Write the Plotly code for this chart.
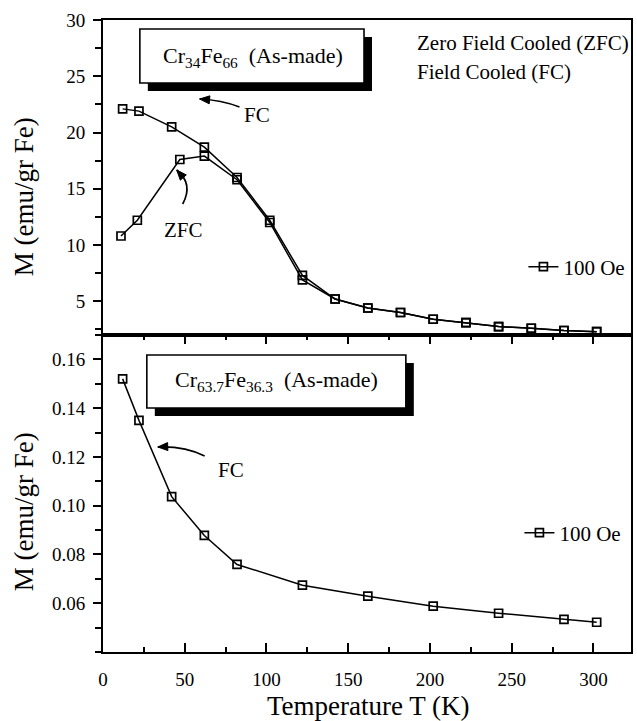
import plotly.graph_objects as go

# Cr34Fe66 (as-made), 100 Oe: field-cooled and zero-field-cooled magnetization
t_fc = [12, 22, 42, 62, 82, 102, 122, 142, 162, 182, 202, 222, 242, 262, 282, 302]
m_fc = [22.1, 21.9, 20.5, 18.7, 16.0, 12.2, 7.3, 5.2, 4.4, 4.0, 3.4, 3.1, 2.75, 2.6, 2.4, 2.3]
t_zfc = [11, 21, 47, 62, 82, 102, 122, 142, 162, 182, 202, 222, 242, 262, 282, 302]
m_zfc = [10.8, 12.2, 17.6, 17.9, 15.8, 12.0, 6.9, 5.2, 4.4, 4.0, 3.4, 3.1, 2.75, 2.6, 2.4, 2.3]

# Cr63.7Fe36.3 (as-made), 100 Oe: field-cooled magnetization
t_b = [12, 22, 42, 62, 82, 122, 162, 202, 242, 282, 302]
m_b = [0.152, 0.135, 0.1037, 0.0878, 0.0759, 0.0674, 0.0629, 0.0588, 0.0559, 0.0534, 0.0522]

top_ticks = [5, 10, 15, 20, 25, 30]
bot_ticks = [0.06, 0.08, 0.10, 0.12, 0.14, 0.16]
x_ticks = [0, 50, 100, 150, 200, 250, 300]

FONT = "'Liberation Serif', 'Times New Roman', Times, serif"
W, H = 637, 721
L, R, T, B = 103, 4, 20, 69
PW, PH = W - L - R, H - T - B
SPLIT = 335  # pixel row of the boundary between panels


def px(x):
    return (x - L) / PW


def py(y):
    return (H - B - y) / PH


mk = dict(symbol="square-open", size=8, color="black", line=dict(width=1.7, color="black"))
ln = dict(color="black", width=1.5)

fig = go.Figure()
fig.add_trace(go.Scatter(x=t_zfc, y=m_zfc, mode="lines+markers", marker=mk, line=ln,
                         xaxis="x", yaxis="y", showlegend=False, name="ZFC"))
fig.add_trace(go.Scatter(x=t_fc, y=m_fc, mode="lines+markers", marker=mk, line=ln,
                         xaxis="x", yaxis="y", name="100 Oe", legend="legend"))
fig.add_trace(go.Scatter(x=t_b, y=m_b, mode="lines+markers", marker=mk, line=ln,
                         xaxis="x2", yaxis="y2", name="100 Oe", legend="legend2"))

split = py(SPLIT)
tickfont = dict(family=FONT, size=19, color="black")

fig.update_layout(
    width=W, height=H,
    margin=dict(l=L, r=R, t=T, b=B),
    paper_bgcolor="white", plot_bgcolor="white",
    font=dict(family=FONT, color="black"),
    xaxis=dict(domain=[0, 1], anchor="y", range=[0, 323], showticklabels=False, tickvals=[],
               ticks="", showline=True, linecolor="black", linewidth=2, mirror=True,
               showgrid=False, zeroline=False),
    yaxis=dict(domain=[split, 1], anchor="x", range=[2, 30], tickvals=top_ticks,
               ticks="outside", ticklen=8, tickwidth=1.5, tickcolor="black",
               minor=dict(dtick=2.5, tick0=0, ticks="outside", ticklen=6, tickwidth=1.5, tickcolor="black"),
               showline=True, linecolor="black", linewidth=2, mirror=True,
               showgrid=False, zeroline=False, tickfont=tickfont, ticklabelstandoff=4),
    xaxis2=dict(domain=[0, 1], anchor="y2", range=[0, 323], tickvals=x_ticks,
                ticks="inside", ticklen=9, tickwidth=1.5, tickcolor="black",
                minor=dict(dtick=25, tick0=0, ticks="inside", ticklen=5, tickwidth=1.5, tickcolor="black"),
                showline=True, linecolor="black", linewidth=2, mirror="ticks",
                showgrid=False, zeroline=False, tickfont=tickfont, ticklabelstandoff=9),
    yaxis2=dict(domain=[0, split], anchor="x2", range=[0.04, 0.17], tickvals=bot_ticks,
                tickformat=".2f",
                ticks="outside", ticklen=8, tickwidth=1.5, tickcolor="black",
                minor=dict(dtick=0.01, tick0=0, ticks="outside", ticklen=6, tickwidth=1.5, tickcolor="black"),
                showline=True, linecolor="black", linewidth=2, mirror=True,
                showgrid=False, zeroline=False, tickfont=tickfont, ticklabelstandoff=4),
    legend=dict(x=px(525), y=py(267), xanchor="left", yanchor="middle", bgcolor="rgba(0,0,0,0)",
                font=dict(family=FONT, size=21, color="black")),
    legend2=dict(x=px(521), y=py(533), xanchor="left", yanchor="middle", bgcolor="rgba(0,0,0,0)",
                 font=dict(family=FONT, size=21, color="black")),
)

shapes = []
annotations = []


def shadow_box(x0, y0, x1, y1, off=8):
    shapes.append(dict(type="rect", xref="paper", yref="paper",
                       x0=px(x0 + off), x1=px(x1 + off), y0=py(y0 + off), y1=py(y1 + off),
                       fillcolor="black", line=dict(width=0), layer="above"))
    shapes.append(dict(type="rect", xref="paper", yref="paper",
                       x0=px(x0), x1=px(x1), y0=py(y0), y1=py(y1),
                       fillcolor="white", line=dict(color="black", width=1.6), layer="above"))


def curved_arrow(tail, ctrl, tip, back):
    # shaft: quadratic curve from the tail to the tip
    path = "M{},{} Q{},{} {},{}".format(px(tail[0]), py(tail[1]), px(ctrl[0]), py(ctrl[1]),
                                         px(tip[0]), py(tip[1]))
    shapes.append(dict(type="path", xref="paper", yref="paper", path=path,
                       line=dict(color="black", width=1.7), layer="above"))
    # head: small filled triangle pointing along the direction (tip - back)
    dx, dy = tip[0] - back[0], tip[1] - back[1]
    n = (dx * dx + dy * dy) ** 0.5
    ux, uy = dx / n, dy / n
    hl, hw = 10, 4
    bx, by = tip[0] - ux * hl, tip[1] - uy * hl
    p1 = (bx - uy * hw, by + ux * hw)
    p2 = (bx + uy * hw, by - ux * hw)
    tri = "M{},{} L{},{} L{},{} Z".format(px(tip[0]), py(tip[1]), px(p1[0]), py(p1[1]),
                                          px(p2[0]), py(p2[1]))
    shapes.append(dict(type="path", xref="paper", yref="paper", path=tri,
                       fillcolor="black", line=dict(color="black", width=1), layer="above"))


def label(x, y, text, size=19, xanchor="center", angle=0):
    annotations.append(dict(xref="paper", yref="paper", x=px(x), y=py(y), text=text,
                            showarrow=False, xanchor=xanchor, yanchor="middle", textangle=angle,
                            font=dict(family=FONT, size=size, color="black")))


shadow_box(140, 29, 365, 83)
shadow_box(147, 355, 407, 408)
label(254, 57, "Cr<sub>34</sub>Fe<sub>66</sub>  (As-made)", size=22)
label(277, 381, "Cr<sub>63.7</sub>Fe<sub>36.3</sub>  (As-made)", size=22)

label(416, 43, "Zero Field Cooled (ZFC)", size=21, xanchor="left")
label(416, 72, "Field Cooled (FC)", size=21, xanchor="left")

curved_arrow((240, 107), (222, 100), (200, 99), (212, 100))
label(258, 115, "FC", size=21)
curved_arrow((183, 204), (194, 184), (177, 170), (184, 178))
label(184, 230, "ZFC", size=21)
curved_arrow((205, 456), (185, 446), (158, 447), (170, 446.5))
label(231, 470, "FC", size=21)

label(24, 197, "M (emu/gr Fe)", size=27, angle=-90)
label(24, 512, "M (emu/gr Fe)", size=27, angle=-90)
label(370, 706, "Temperature T (K)", size=27)

fig.update_layout(shapes=shapes, annotations=annotations)
fig.write_html("out.html")
